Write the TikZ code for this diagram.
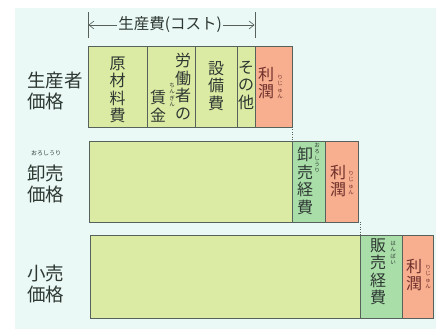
\documentclass[tikz,border=0pt]{standalone}
\usepackage{fontspec}
\setmainfont{Noto Sans CJK JP}
\usetikzlibrary{arrows.meta}
\definecolor{bgc}{HTML}{EAF9F6}
\definecolor{lgreen}{HTML}{DCEBA3}
\definecolor{dgreen}{HTML}{A9DEA9}
\definecolor{orng}{HTML}{F8AF90}
\definecolor{lc}{HTML}{56625B}
\definecolor{tx}{HTML}{2E3833}
\definecolor{rtx}{HTML}{6E2F2A}
\begin{document}
\begin{tikzpicture}[x=1pt,y=-1pt,
  seg/.style={draw=lc, line width=0.6pt},
  vt/.style={align=center, font=\fontsize{16}{17.5}\selectfont, inner sep=0pt, text=tx},
  vtr/.style={vt, text=rtx},
  rb/.style={align=center, font=\fontsize{5.5}{6.2}\selectfont, inner sep=0pt, text=tx},
  rbr/.style={rb, text=rtx},
  lab/.style={align=left, anchor=west, font=\fontsize{18.5}{21}\selectfont, inner sep=0pt, text=tx},
  dotl/.style={draw=lc, line width=0.4pt, dotted}]
\useasboundingbox (0,0) rectangle (446,329);
\fill[white] (0,0) rectangle (446,329);
\fill[bgc] (15,8) rectangle (436,329);

% bracket
\coordinate (bl1) at (88,12); \coordinate (bl2) at (88,38);
\coordinate (br1) at (255,12); \coordinate (br2) at (255,38);
\draw[lc, line width=0.5pt] (bl1) -- (bl2);
\draw[lc, line width=0.5pt] (br1) -- (br2);
\node[font=\fontsize{15.5}{15.5}\selectfont, text=tx, inner sep=0pt] (cost) at (170,25) {生産費(コスト)};
\coordinate (al) at (88.5,25); \coordinate (ar) at (254.5,25);
\draw[lc, line width=0.6pt, -{Straight Barb[length=5pt,width=8pt]}] (cost.west) ++(-1,0) -- (al);
\draw[lc, line width=0.6pt, -{Straight Barb[length=5pt,width=8pt]}] (cost.east) ++(1,0) -- (ar);

% row 1
\filldraw[seg, fill=lgreen] (88,46) rectangle (147,127);
\filldraw[seg, fill=lgreen] (147,46) rectangle (195,127);
\filldraw[seg, fill=lgreen] (195,46) rectangle (237,127);
\filldraw[seg, fill=lgreen] (237,46) rectangle (255,127);
\filldraw[seg, fill=orng] (255,46) rectangle (292,127);
\node[vt] (genzai) at (117.5,90) {原\\材\\料\\費};
\node[vt] (roudou) at (183,86.5) {労\\働\\者\\の};
\node[vt] (chingin) at (158,106) {賃\\金};
\node[rb] (chinginr) at (172,95) {ち\\ん\\ぎ\\ん};
\node[vt] (setsubi) at (216,86) {設\\備\\費};
\node[vt] (sonota) at (246,85) {そ\\の\\他};
\node[vtr] (rijun1) at (266,83) {利\\潤};
\node[rbr] (rijun1r) at (280,87) {り\\じ\\ゅ\\ん};

% row 2
\filldraw[seg, fill=lgreen] (89,141) rectangle (292,222);
\filldraw[seg, fill=dgreen] (292,141) rectangle (325,222);
\filldraw[seg, fill=orng] (325,141) rectangle (358,222);
\node[vt] (oroshi) at (305,181) {卸\\売\\経\\費};
\node[rb] (oroshir) at (317,158) {お\\ろ\\し\\う\\り};
\node[vtr] (rijun2) at (338,181) {利\\潤};
\node[rbr] (rijun2r) at (351,183) {り\\じ\\ゅ\\ん};

% row 3
\filldraw[seg, fill=lgreen] (90,235) rectangle (360,318);
\filldraw[seg, fill=dgreen] (360,235) rectangle (402,318);
\filldraw[seg, fill=orng] (402,235) rectangle (433,318);
\node[vt] (hanbai) at (378,272) {販\\売\\経\\費};
\node[rb] (hanbair) at (393,253) {は\\ん\\ば\\い};
\node[vtr] (rijun3) at (414,275) {利\\潤};
\node[rbr] (rijun3r) at (428,277) {り\\じ\\ゅ\\ん};

% dotted connectors
\coordinate (d1a) at (292,127); \coordinate (d1b) at (292,141);
\coordinate (d2a) at (360,222); \coordinate (d2b) at (360,235);
\draw[dotl] (d1a) -- (d1b);
\draw[dotl] (d2a) -- (d2b);

% left labels
\node[lab] (seisan) at (27,91) {生産者\\価格};
\node[lab] (oroshiuri) at (27,183.5) {卸売\\価格};
\node[font=\fontsize{6}{6}\selectfont, text=tx, inner sep=0pt] (oroshiurir) at (46,153) {おろしうり};
\node[lab] (kouri) at (27,283.5) {小売\\価格};
\end{tikzpicture}
\end{document}
